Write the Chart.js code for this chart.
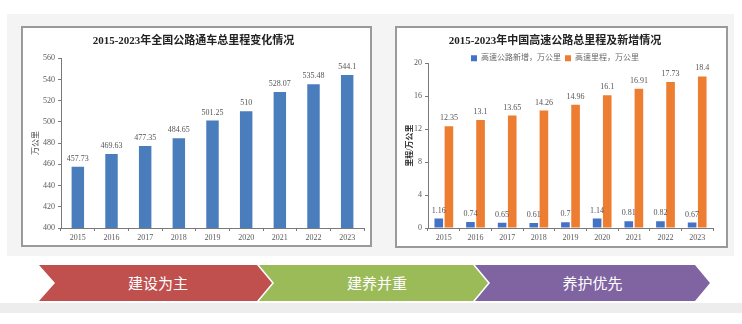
<!DOCTYPE html>
<html>
<head>
<meta charset="utf-8">
<script src="https://cdn.jsdelivr.net/npm/chart.js@4.4.1/dist/chart.umd.min.js"></script>
<style>
  html, body { margin: 0; padding: 0; background: #fff; }
  body { width: 742px; height: 324px; position: relative; overflow: hidden; font-family: "Noto Sans CJK SC", sans-serif; }
  .bg { position: absolute; left: 7px; top: 14px; width: 727px; height: 242px; background: #f4f4f4; }
  .strip { position: absolute; left: 0; top: 303px; width: 742px; height: 10px; background: #ededed; }
  .panel { position: absolute; background: #fff; border: 2px solid #9a9a9a; box-sizing: border-box; }
  .panel canvas { position: absolute; left: 0; top: 0; }
  .chev { position: absolute; top: 265px; height: 36px; color: #fff; font-size: 15px; line-height: 36px; text-align: center; }
</style>
</head>
<body>
<div class="bg"></div>
<div class="strip"></div>

<div class="panel" style="left:21px; top:26px; width:351px; height:221px;">
  <canvas id="roadChart" width="347" height="217" style="width:347px;height:217px"></canvas>
</div>
<div class="panel" style="left:395px; top:26px; width:333px; height:222px;">
  <canvas id="expressChart" width="329" height="218" style="width:329px;height:218px"></canvas>
</div>

<div class="chev" style="left:39px; width:233px; background:#c0504d; clip-path:polygon(0 0, 218px 0, 233px 18px, 218px 36px, 0 36px, 16px 18px);">
  <span style="position:absolute; left:0; width:238px; text-align:center;">建设为主</span>
</div>
<div class="chev" style="left:259px; width:229px; background:#9bbb59; clip-path:polygon(0 0, 214px 0, 229px 18px, 214px 36px, 0 36px, 15px 18px);">
  <span style="position:absolute; left:0; width:236px; text-align:center;">建养并重</span>
</div>
<div class="chev" style="left:475px; width:235px; background:#8064a2; clip-path:polygon(0 0, 220px 0, 235px 18px, 220px 36px, 0 36px, 15px 18px);">
  <span style="position:absolute; left:0; width:235px; text-align:center;">养护优先</span>
</div>

<script>
const years = ['2015', '2016', '2017', '2018', '2019', '2020', '2021', '2022', '2023'];

// 全国公路通车总里程，万公里
const totalRoad = [457.73, 469.63, 477.35, 484.65, 501.25, 510, 528.07, 535.48, 544.1];

// 高速公路新增 / 高速里程，万公里
const expresswayAdded = [1.16, 0.74, 0.65, 0.61, 0.7, 1.14, 0.81, 0.82, 0.67];
const expresswayTotal = [12.35, 13.1, 13.65, 14.26, 14.96, 16.1, 16.91, 17.73, 18.4];

const roadAxis = { min: 400, max: 560, step: 20 };
const expressAxis = { min: 0, max: 20, step: 4 };

const serif = '"Liberation Serif", "Noto Sans CJK SC", serif';
const tickColor = '#5a5a5a';
const axisColor = '#7a7a7a';


// values written above each bar
const valueLabels = {
    id: 'valueLabels',
    afterDatasetsDraw(chart) {
        const ctx = chart.ctx;
        chart.data.datasets.forEach((ds, i) => {
            const meta = chart.getDatasetMeta(i);
            meta.data.forEach((bar, j) => {
                ctx.save();
                ctx.font = '8px ' + serif;
                ctx.fillStyle = '#555';
                ctx.textAlign = 'center';
                ctx.textBaseline = 'bottom';
                ctx.fillText(String(ds.data[j]), bar.x, bar.y - 4);
                ctx.restore();
            });
        });
    }
};


function makeScales(axis, yTitle, yWidth, xHeight, titleOpts) {
    return {
        x: {
            grid: { display: true, drawOnChartArea: false, drawTicks: true, tickLength: 3, color: axisColor, offset: true },
            border: { display: true, color: axisColor, width: 1 },
            ticks: { color: tickColor, font: { family: serif, size: 8 }, padding: 2, maxRotation: 0 },
            afterFit: (scale) => { scale.height = xHeight; }
        },
        y: {
            min: axis.min,
            max: axis.max,
            grid: { display: true, drawOnChartArea: false, drawTicks: true, tickLength: 3, color: axisColor },
            border: { display: true, color: axisColor, width: 1 },
            ticks: { stepSize: axis.step, color: tickColor, font: { family: serif, size: 8 }, padding: 3 },
            title: Object.assign({ display: true, text: yTitle, color: '#444', font: { family: serif, size: 8 } }, titleOpts),
            afterFit: (scale) => { scale.width = yWidth; }
        }
    };
}


new Chart(document.getElementById('roadChart').getContext('2d'), {
    type: 'bar',
    data: {
        labels: years,
        datasets: [{
            label: '全国公路通车总里程',
            data: totalRoad,
            backgroundColor: '#4a7dbb',
            barPercentage: 0.37,
            categoryPercentage: 1
        }]
    },
    options: {
        responsive: false,
        animation: false,
        layout: { padding: { left: 0, right: 6, top: 0, bottom: 0 } },
        plugins: {
            legend: { display: false },
            tooltip: { enabled: false },
            title: {
                display: true,
                text: '2015-2023年全国公路通车总里程变化情况',
                color: '#222',
                font: { family: serif, size: 11, weight: 'bold' },
                padding: { top: 7, bottom: 10 }
            }
        },
        scales: makeScales(roadAxis, '万公里', 38, 17, { padding: { top: 8, bottom: 0 } })
    },
    plugins: [valueLabels]
});


new Chart(document.getElementById('expressChart').getContext('2d'), {
    type: 'bar',
    data: {
        labels: years,
        datasets: [{
            label: '高速公路新增，万公里',
            data: expresswayAdded,
            backgroundColor: '#4472c4',
            barPercentage: 0.85,
            categoryPercentage: 0.64
        }, {
            label: '高速里程，万公里',
            data: expresswayTotal,
            backgroundColor: '#ed7d31',
            barPercentage: 0.85,
            categoryPercentage: 0.64
        }]
    },
    options: {
        responsive: false,
        animation: false,
        layout: { padding: { left: 0, right: 13, top: 0, bottom: 0 } },
        plugins: {
            tooltip: { enabled: false },
            title: {
                display: true,
                text: '2015-2023年中国高速公路总里程及新增情况',
                color: '#222',
                font: { family: serif, size: 11, weight: 'bold' },
                padding: { top: 7, bottom: 2 }
            },
            legend: {
                display: true,
                maxHeight: 13,
                labels: {
                    boxWidth: 6,
                    boxHeight: 6,
                    padding: 4,
                    color: '#666',
                    font: { family: serif, size: 8 }
                }
            }
        },
        scales: makeScales(expressAxis, '里程/万公里', 31, 18, { padding: { top: 8, bottom: 0 }, color: '#333', font: { family: serif, size: 8, weight: 'bold' } })
    },
    plugins: [valueLabels]
});
</script>
</body>
</html>
